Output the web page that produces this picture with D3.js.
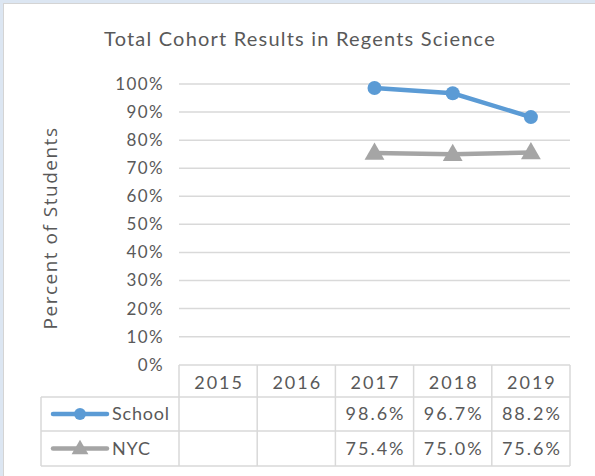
<!DOCTYPE html>
<html>
<head>
<meta charset="utf-8">
<script src="https://cdn.jsdelivr.net/npm/d3@7"></script>
<style>
  body { margin: 0; background: #fff; }
  text { fill: #595959; }
</style>
</head>
<body>
<div id="chart"></div>
<script>
// data
var years = ["2015", "2016", "2017", "2018", "2019"];
var school = [null, null, 98.6, 96.7, 88.2];
var nyc = [null, null, 75.4, 75.0, 75.6];
var yTicks = [0, 10, 20, 30, 40, 50, 60, 70, 80, 90, 100];
var seriesNames = ["School", "NYC"];

var W = 595, H = 476;
var font = "Lato, 'DejaVu Sans', sans-serif";

var svg = d3.select("#chart").append("svg")
    .attr("width", W).attr("height", H);

// outer frame
svg.append("rect").attr("width", W).attr("height", H).attr("fill", "#dce6f2");
svg.append("rect").attr("x", 3.5).attr("y", 3.5).attr("width", W).attr("height", H)
    .attr("fill", "#fff").attr("stroke", "#d4d4d4");

var x = d3.scaleBand().domain(years).range([179, 570]);
var y = d3.scaleLinear().domain([0, 100]).range([364.7, 84]);

// title
svg.append("text")
    .attr("x", 300).attr("y", 46)
    .attr("text-anchor", "middle")
    .style("font-family", font).style("font-size", "20px").style("letter-spacing", "1.2px")
    .text("Total Cohort Results in Regents Science");

// y axis title
svg.append("text")
    .attr("transform", "translate(57,228) rotate(-90)")
    .attr("text-anchor", "middle")
    .style("font-family", "'Open Sans', sans-serif").style("font-size", "19px")
    .style("letter-spacing", "1.5px")
    .text("Percent of Students");

// gridlines
svg.append("g").selectAll("line")
    .data(yTicks.filter(function(d) { return d > 0; }))
    .enter().append("line")
    .attr("x1", 179).attr("x2", 570)
    .attr("y1", function(d) { return y(d); })
    .attr("y2", function(d) { return y(d); })
    .attr("stroke", "#d9d9d9").attr("stroke-width", 1.5);

// y tick labels
svg.append("g").selectAll("text")
    .data(yTicks)
    .enter().append("text")
    .attr("x", 164)
    .attr("y", function(d) { return y(d) + 6; })
    .attr("text-anchor", "end")
    .style("font-family", font).style("font-size", "17px").style("letter-spacing", "1.4px")
    .text(function(d) { return d + "%"; });

// table
var rowTop = [365, 397, 431];
var rowBot = [397, 431, 466];
var tableLeft = 41, tableRight = 570;
var grid = svg.append("g").attr("stroke", "#d9d9d9").attr("stroke-width", 1.5);
// horizontal lines
grid.append("line").attr("x1", 179).attr("x2", tableRight).attr("y1", rowTop[0]).attr("y2", rowTop[0]);
[rowBot[0], rowBot[1], rowBot[2]].forEach(function(yy) {
    grid.append("line").attr("x1", tableLeft).attr("x2", tableRight).attr("y1", yy).attr("y2", yy);
});
// vertical lines
grid.append("line").attr("x1", tableLeft).attr("x2", tableLeft).attr("y1", rowBot[0]).attr("y2", rowBot[2]);
years.forEach(function(yr) {
    grid.append("line").attr("x1", x(yr)).attr("x2", x(yr)).attr("y1", rowTop[0]).attr("y2", rowBot[2]);
});
grid.append("line").attr("x1", tableRight).attr("x2", tableRight).attr("y1", rowTop[0]).attr("y2", rowBot[2]);

var cellFont = function(sel) {
    return sel.style("font-family", font).style("font-size", "18px").style("letter-spacing", "2px");
};

// year labels
svg.append("g").selectAll("text")
    .data(years)
    .enter().append("text")
    .attr("x", function(d) { return x(d) + x.bandwidth() / 2 + 1; })
    .attr("y", 389)
    .attr("text-anchor", "middle")
    .call(cellFont)
    .text(function(d) { return d; });

var series = [
    {name: seriesNames[0], values: school, color: "#5b9bd5", marker: "circle", row: 1},
    {name: seriesNames[1], values: nyc, color: "#a5a5a5", marker: "triangle", row: 2}
];

var line = d3.line()
    .defined(function(d) { return d != null; })
    .x(function(d, i) { return x(years[i]) + x.bandwidth() / 2; })
    .y(function(d) { return y(d); });

function marker(g, s, cx, cy, scale) {
    if (s.marker === "circle") {
        g.append("circle").attr("cx", cx).attr("cy", cy).attr("r", 7 * scale).attr("fill", s.color);
    } else {
        var sym = d3.symbol().type(d3.symbolTriangle).size(170 * scale * scale);
        g.append("path").attr("d", sym()).attr("transform", "translate(" + cx + "," + (cy + 1) + ")")
            .attr("fill", s.color);
    }
}

series.forEach(function(s) {
    var g = svg.append("g");
    g.append("path").datum(s.values)
        .attr("d", line)
        .attr("fill", "none").attr("stroke", s.color).attr("stroke-width", 4.5)
        .attr("stroke-linecap", "round");
    s.values.forEach(function(v, i) {
        if (v == null) return;
        marker(g, s, x(years[i]) + x.bandwidth() / 2, y(v), 1);
    });

    // table row
    var cy = (rowTop[s.row] + rowBot[s.row]) / 2;
    g.append("line").attr("x1", 53).attr("x2", 107).attr("y1", cy).attr("y2", cy)
        .attr("stroke", s.color).attr("stroke-width", 4.5).attr("stroke-linecap", "round");
    marker(g, s, 80, cy, 0.85);
    g.append("text").attr("x", 112).attr("y", cy + 6)
        .style("font-family", font).style("font-size", "18px").style("letter-spacing", "0.8px")
        .text(s.name);
    s.values.forEach(function(v, i) {
        if (v == null) return;
        g.append("text")
            .attr("x", x(years[i]) + x.bandwidth() / 2 + 1)
            .attr("y", cy + 6)
            .attr("text-anchor", "middle")
            .call(cellFont)
            .text(v.toFixed(1) + "%");
    });
});
</script>
</body>
</html>
